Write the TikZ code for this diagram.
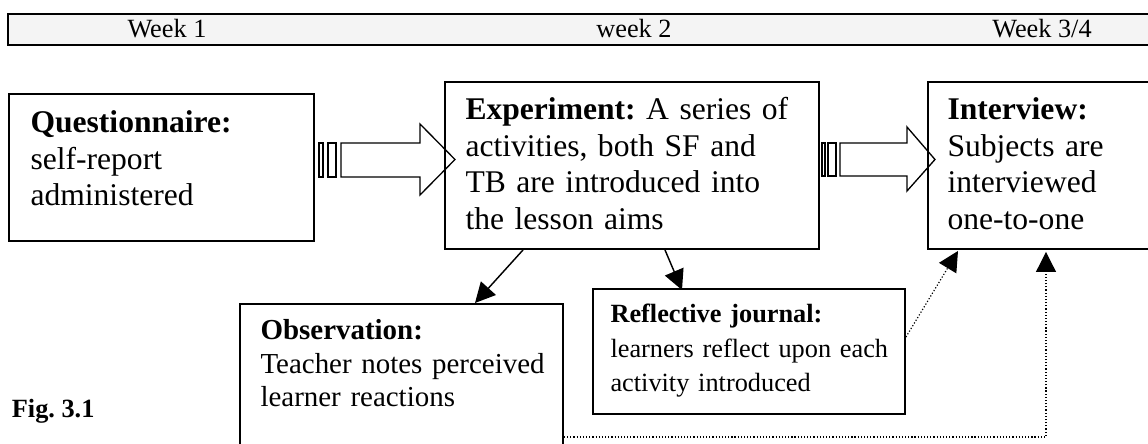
\documentclass[tikz,border=0pt]{standalone}
\usepackage{fontspec}
\setmainfont{Liberation Serif}
\usetikzlibrary{arrows.meta,calc}
\definecolor{hdr}{HTML}{F4F4F4}
\newcommand\mybox[5]{\node[box, minimum width={(#4-#2)*0.38pt}, minimum height={(#5-#3)*0.38pt}] (#1) at (#2,#3) {};}
\frenchspacing
\begin{document}
\begin{tikzpicture}[x=0.38pt,y=-0.38pt,
  box/.style={draw, line width=0.75pt, inner sep=0pt, anchor=north west},
  lbl/.style={inner sep=0pt, anchor=base west, align=left, text width=150pt},
  big/.style={font=\fontsize{12}{13.85}\selectfont},
  mid/.style={font=\fontsize{11}{12.7}\selectfont},
  small/.style={font=\fontsize{10}{13.1}\selectfont},
  hdrtxt/.style={anchor=base, inner sep=0pt, font=\fontsize{10}{12}\selectfont},
  conn/.style={line width=0.55pt, -{Triangle[length=7.6pt,width=7.6pt]}},
  dotconn/.style={line width=0.45pt, dash pattern=on 0.45pt off 0.75pt, -{Triangle[length=7.6pt,width=7.6pt]}},
  blk/.style={draw, line width=0.5pt}]
\useasboundingbox (0,0) rectangle (1148,444);
\clip (0,0) rectangle (1148,444);
% header bar
\node[box, fill=hdr, minimum width={(1170-7)*0.38pt}, minimum height={(44-13)*0.38pt}] (hb) at (7,13) {};
\node[hdrtxt] (w1) at (167,38) {Week 1};
\node[hdrtxt] (w2) at (634,38) {week 2};
\node[hdrtxt] (w3) at (1042,38) {Week 3/4};
% boxes
\mybox{q}{8}{93}{313}{240}
\mybox{e}{444}{81}{818}{248}
\mybox{i}{927}{81}{1170}{248}
\mybox{o}{239}{303}{562}{470}
\mybox{r}{592}{288}{904}{413}
% texts
\node[lbl,big] (qt) at (30,133) {\textbf{Questionnaire:}\\ self-report\\ administered};
\node[lbl,big] (et) at (465,120) {\textbf{Experiment:} A series of\\ activities, both SF and\\ TB are introduced into\\ the lesson aims};
\node[lbl,big] (it) at (947,120) {\textbf{Interview:}\\ Subjects are\\ interviewed\\ one-to-one};
\node[lbl,mid] (ot) at (260,340) {\textbf{Observation:}\\ Teacher notes perceived\\ learner reactions};
\node[lbl,small] (rt) at (610,323) {\textbf{Reflective journal:}\\ learners reflect upon each\\ activity introduced};
\node[anchor=base east, inner sep=0pt, font=\fontsize{10}{12}\selectfont\bfseries] (fig) at (95,418) {Fig. 3.1};
% block arrows
\draw[blk] (319,143) rectangle (323,177);
\draw[blk] (328,143) rectangle (336,177);
\draw[blk] (341,143) -- (420,143) -- (420,124) -- (455,159.5) -- (420,195) -- (420,177) -- (341,177) -- cycle;
\draw[blk] (822,143) rectangle (825,176);
\draw[blk] (828,143) rectangle (836,176);
\draw[blk] (840,143) -- (907,143) -- (907,127) -- (935,159.5) -- (907,191) -- (907,176) -- (840,176) -- cycle;
% connectors
\draw[conn] ($(e.south west)+(79,0)$) -- ($(o.north west)+(236,0)$);
\draw[conn] ($(e.south west)+(221,0)$) -- ($(r.north west)+(90,2)$);
\draw[dotconn] ($(r.north east)+(0,49)$) -- ($(i.south west)+(31,1)$);
\draw[dotconn] ($(o.north east)+(0,134)$) -| ($(i.south west)+(119,2)$);
\end{tikzpicture}
\end{document}
